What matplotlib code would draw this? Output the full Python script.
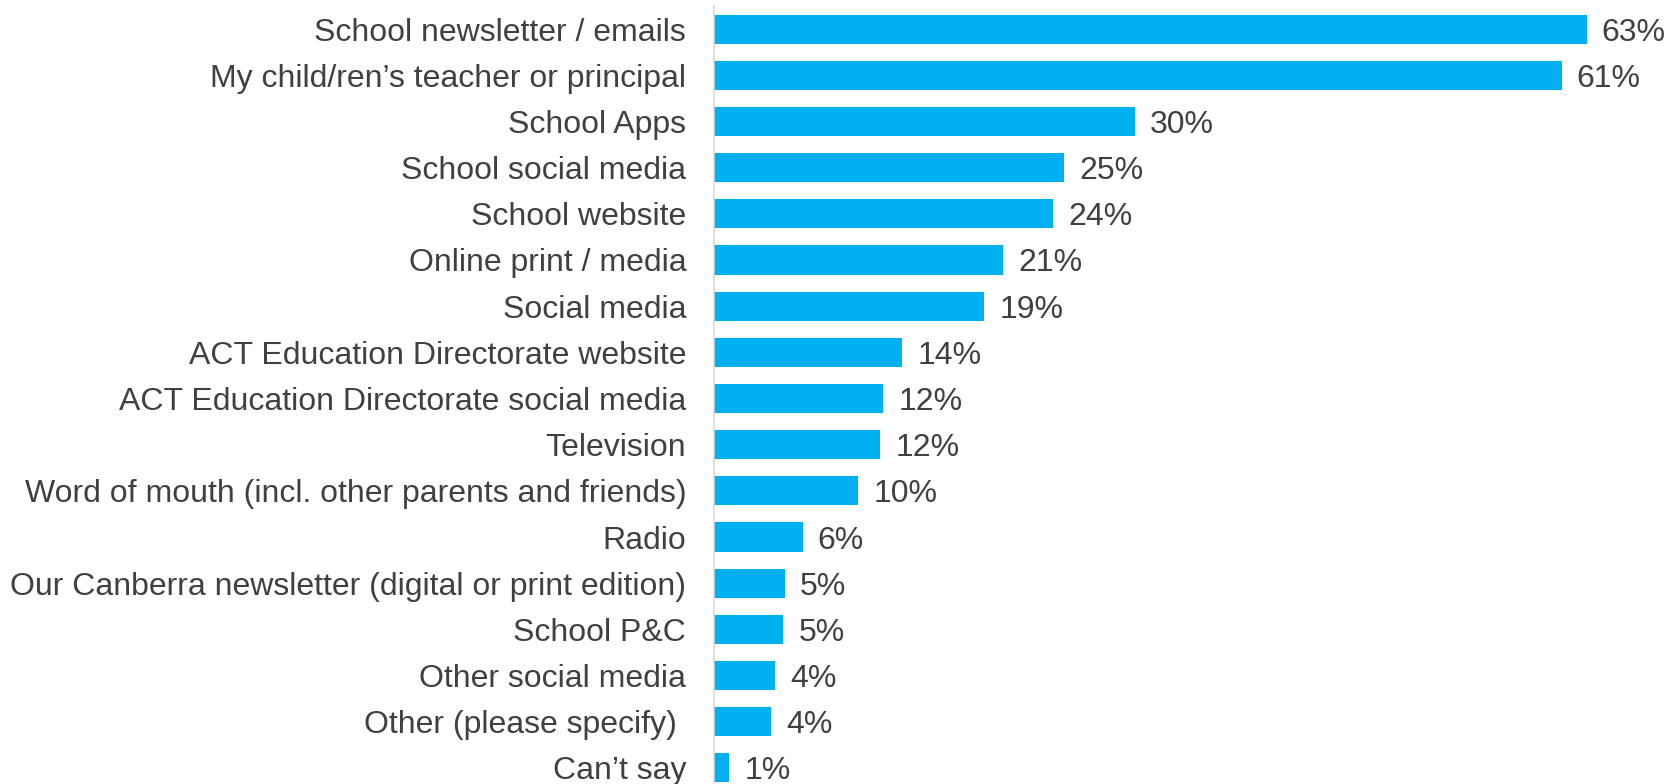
import matplotlib
matplotlib.use("Agg")
import matplotlib.pyplot as plt

# categories top to bottom, as in the chart
categories = [
    "School newsletter / emails",
    "My child/ren\u2019s teacher or principal",
    "School Apps",
    "School social media",
    "School website",
    "Online print / media",
    "Social media",
    "ACT Education Directorate website",
    "ACT Education Directorate social media",
    "Television",
    "Word of mouth (incl. other parents and friends)",
    "Radio",
    "Our Canberra newsletter (digital or print edition)",
    "School P&C",
    "Other social media",
    "Other (please specify) ",
    "Can\u2019t say",
]
# bar lengths, labels as printed
values = [63.0, 61.2, 30.4, 25.3, 24.5, 20.9, 19.5, 13.6, 12.2, 12.0,
          10.4, 6.4, 5.1, 5.0, 4.4, 4.1, 1.1]
labels = ["63%", "61%", "30%", "25%", "24%", "21%", "19%", "14%", "12%",
          "12%", "10%", "6%", "5%", "5%", "4%", "4%", "1%"]

plt.rcParams['font.family'] = ['Liberation Sans', 'DejaVu Sans']

W, H = 1671, 784
fig = plt.figure(figsize=(W / 100, H / 100), dpi=100)
ax = fig.add_axes([714 / W, 1 - 791 / H, 1 - 714 / W, 785 / H])

y = list(range(len(categories)))
ax.barh(y, values, height=0.63, color="#00B0F0")
ax.set_ylim(len(categories) - 0.5, -0.5)
ax.set_xlim(0, 69.1)

for yi, v, lab in zip(y, values, labels):
    ax.text(v + 1.1, yi, lab, va="center_baseline", ha="left",
            fontsize=23, color="#404040")

ax.set_yticks(y)
ax.set_yticklabels(categories, fontsize=23, color="#404040")
ax.tick_params(axis="y", length=0, pad=20)
ax.set_xticks([])
for s in ["top", "right", "bottom"]:
    ax.spines[s].set_visible(False)
ax.spines["left"].set_color("#d9d9d9")
ax.spines["left"].set_linewidth(1.2)

fig.savefig("out.png", dpi=100)
